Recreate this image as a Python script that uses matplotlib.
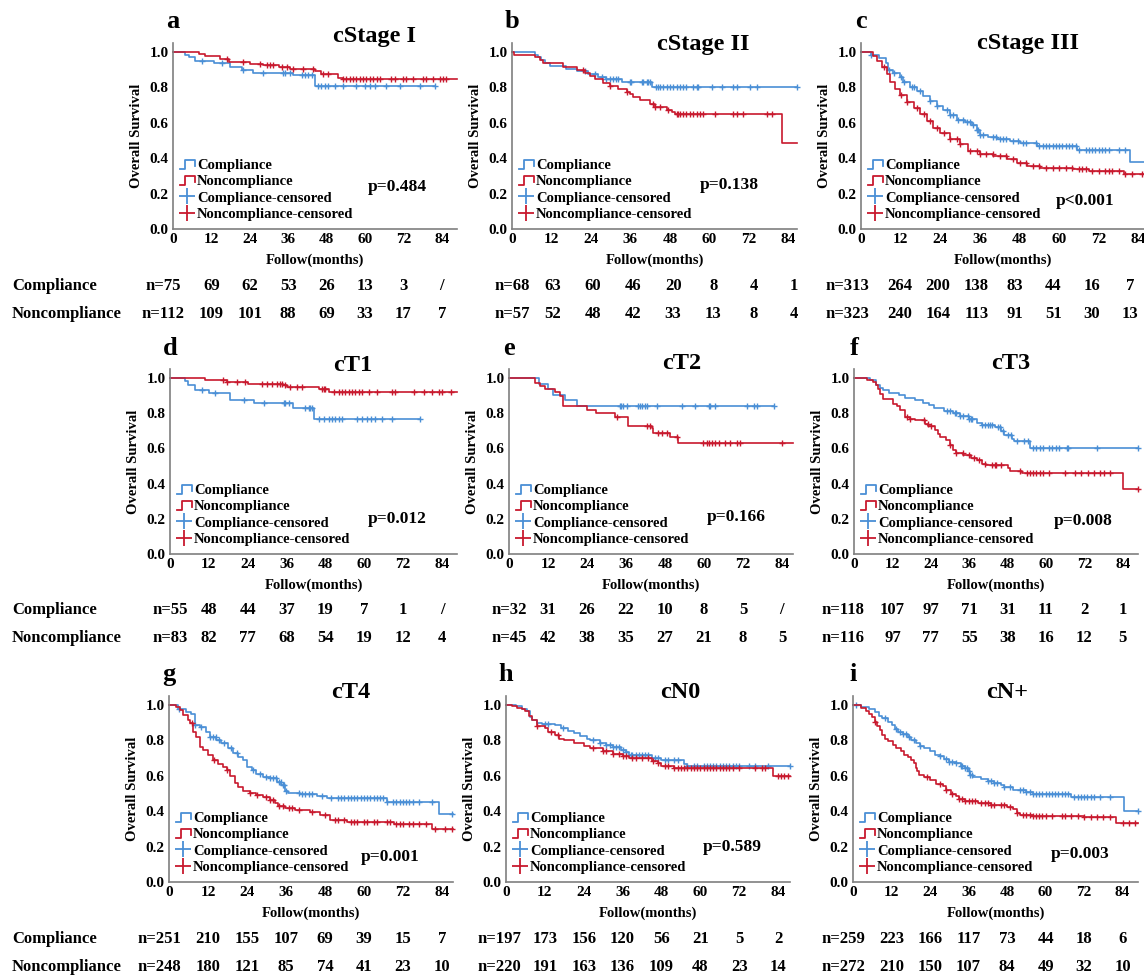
import numpy as np
import matplotlib
matplotlib.use('Agg')
import matplotlib.pyplot as plt
from matplotlib.lines import Line2D
from matplotlib.legend_handler import HandlerBase
from matplotlib import transforms

plt.rcParams['font.family'] = ['Liberation Serif', 'DejaVu Serif']
plt.rcParams['font.weight'] = 'bold'
plt.rcParams['axes.labelweight'] = 'bold'

# ---- a: cStage I ----
a_comp_t = [0, 3.8, 4.9, 7, 12.7, 17.7, 21.7, 25, 37.6, 44.3, 82]
a_comp_s = [1.0, 0.985, 0.97, 0.95, 0.94, 0.915, 0.90, 0.88, 0.87, 0.81, 0.81]
a_comp_cens = [9, 15.3, 22, 28.2, 34.5, 35, 36.6, 40.2, 41.2, 42.3, 43.3, 45.4, 46.4, 47.5, 48.5,
               50.6, 53.2, 57.3, 59.9, 61.5, 63, 66.7, 70.8, 77.1, 82]
a_non_t = [0, 8, 10, 14.7, 17.5, 24, 28, 33, 36.5, 44.3, 46.4, 51.5, 53, 88.7]
a_non_s = [1.0, 0.99, 0.977, 0.962, 0.945, 0.934, 0.925, 0.915, 0.902, 0.89, 0.874, 0.855, 0.845, 0.845]
a_non_cens = [16.8, 22, 27.2, 29.3, 30.3, 31.4, 34, 35.5, 37.6, 40.7, 43.8, 46.9, 48.5, 53.2, 54.2,
              55.2, 56.3, 57.3, 58.4, 59.4, 60.4, 61.5, 62.5, 63.6, 64.6, 68.2, 69.3, 71.9, 72.9,
              75, 78.1, 79.1, 81.2, 83.3, 84.3, 85.4]
a_risk_comp = ['n=75', '69', '62', '53', '26', '13', '3', '/']
a_risk_non = ['n=112', '109', '101', '88', '69', '33', '17', '7']

# ---- b: cStage II ----
b_comp_t = [0, 6.9, 7.9, 8.9, 9.9, 11.5, 16.5, 19.6, 23.1, 26.2, 28.7, 33.3, 42.4, 86.5]
b_comp_s = [1.0, 0.985, 0.97, 0.955, 0.94, 0.92, 0.905, 0.89, 0.875, 0.86, 0.846, 0.829, 0.80, 0.80]
b_comp_cens = [22.1, 25.2, 27.2, 28.7, 29.7, 30.7, 31.7, 32.3, 35.8, 36.3, 39.4, 39.9, 40.9, 41.4,
               41.9, 43.9, 44.4, 44.9, 45.9, 47, 48, 49, 50, 51, 52, 53, 55.1, 56.1, 56.6, 60.7,
               63.7, 67.3, 68.3, 72.3, 74.4, 86.5]
b_non_t = [0, 0.6, 6.9, 8.4, 9.4, 15.5, 19.6, 22.1, 23.6, 25.2, 27.7, 29.7, 32.3, 34.8, 35.8, 36.8,
           38.9, 41.9, 43.4, 47, 48.5, 49.5, 82, 86.6]
b_non_s = [1.0, 0.985, 0.97, 0.955, 0.94, 0.917, 0.897, 0.88, 0.865, 0.845, 0.826, 0.807, 0.79,
           0.775, 0.76, 0.743, 0.728, 0.709, 0.69, 0.675, 0.662, 0.649, 0.484, 0.484]
b_non_cens = [21.6, 29.7, 34.8, 42.9, 43.4, 44.9, 47.5, 50, 50.5, 51, 52, 53, 54, 55.1, 56.1, 57.1,
              58.1, 61.7, 67.3, 68.3, 70.3, 77.4, 78.9]
b_risk_comp = ['n=68', '63', '60', '46', '20', '8', '4', '1']
b_risk_non = ['n=57', '52', '48', '42', '33', '13', '8', '4']

# ---- c: cStage III ----
c_comp_t = [0, 3, 5.5, 7.5, 8.2, 9.8, 11.8, 12.8, 14.8, 16.9, 18.9, 20.9, 22.9, 24.9, 27, 29, 31.5,
            33.5, 35, 36, 38.6, 41.1, 45.1, 48.2, 53.2, 65.3, 81.5, 86]
c_comp_s = [1.0, 0.985, 0.965, 0.94, 0.896, 0.883, 0.858, 0.83, 0.80, 0.777, 0.751, 0.723, 0.694,
            0.675, 0.642, 0.617, 0.604, 0.585, 0.557, 0.532, 0.519, 0.509, 0.50, 0.485, 0.468,
            0.447, 0.381, 0.381]
c_comp_cens = [3, 8.5, 10, 12, 13, 15.5, 16, 18, 21, 23, 26, 27, 28, 29.5, 31, 32, 33, 34, 35, 35.5,
               36, 37, 40, 41, 42, 43, 44, 46, 47.5, 49, 50, 53, 54, 55, 56, 57, 58, 59, 60, 61, 62,
               63, 64, 65, 66, 68, 69, 70, 71, 72, 73, 74, 75, 78, 80]
c_non_t = [0, 3.7, 4.7, 6.3, 7.8, 8.8, 10.3, 11.8, 13.8, 15.9, 17.9, 19.9, 21.9, 23.9, 27, 30, 32.5,
           36, 40.1, 44.1, 47.1, 50.2, 54.2, 64.3, 68.9, 79.5, 86]
c_non_s = [1.0, 0.98, 0.947, 0.915, 0.877, 0.83, 0.792, 0.758, 0.717, 0.683, 0.649, 0.608, 0.57,
           0.543, 0.509, 0.481, 0.443, 0.425, 0.415, 0.396, 0.372, 0.358, 0.345, 0.34, 0.33,
           0.311, 0.311]
c_non_cens = [7, 12, 14, 17, 19, 21, 23, 25, 27, 29, 30, 33, 35, 36, 38, 40, 42, 44, 46, 48, 50, 52,
              54, 56, 58, 60, 62, 64, 66, 67, 68, 70, 72, 74, 75, 76, 78, 80, 82, 85]
c_risk_comp = ['n=313', '264', '200', '138', '83', '44', '16', '7']
c_risk_non = ['n=323', '240', '164', '113', '91', '51', '30', '13']

# ---- d: cT1 ----
d_comp_t = [0, 4.6, 5.7, 7.7, 11.9, 18.6, 25.8, 38.1, 44.3, 77.3]
d_comp_s = [1.0, 0.981, 0.96, 0.93, 0.915, 0.873, 0.858, 0.83, 0.769, 0.769]
d_comp_cens = [9.8, 13.9, 22.7, 28.9, 35.1, 35.6, 36.6, 41.8, 42.8, 43.3, 43.8, 45.9, 47.4, 49, 50,
               51, 52.1, 53.1, 57.7, 59.3, 60.8, 61.9, 63.4, 65.5, 68.6, 77.3]
d_non_t = [0, 10.8, 17.5, 24.2, 35, 36, 45.9, 49, 88.6]
d_non_s = [1.0, 0.99, 0.98, 0.967, 0.958, 0.948, 0.936, 0.92, 0.92]
d_non_cens = [16.5, 17.5, 20.6, 23.2, 28.4, 29.9, 31.4, 33, 34, 34.5, 35.6, 37.1, 39.2, 40.7, 46.9,
              47.4, 47.9, 50.5, 52.1, 53.1, 54.1, 55.2, 56.2, 57.2, 58.2, 59.3, 61.3, 63.9, 68.6,
              69.6, 75.3, 78.4, 80.9, 83, 84, 86.6]
d_risk_comp = ['n=55', '48', '44', '37', '19', '7', '1', '/']
d_risk_non = ['n=83', '82', '77', '68', '54', '19', '12', '4']

# ---- e: cT2 ----
e_comp_t = [0, 9.3, 12, 13.5, 17.2, 20.8, 81.4]
e_comp_s = [1.0, 0.968, 0.936, 0.905, 0.873, 0.84, 0.84]
e_comp_cens = [34.1, 34.6, 35.1, 36.2, 39.8, 40.3, 40.8, 41.9, 42.4, 45.4, 53.2, 57.3, 61.4, 61.9,
               63.5, 73.2, 75.3, 76.3, 81.4]
e_non_t = [0, 7.9, 9.5, 11, 14.1, 15.7, 16.7, 23.9, 26.9, 32.6, 36.7, 43.9, 44.4, 49.6, 52.1, 87.4]
e_non_s = [1.0, 0.97, 0.955, 0.94, 0.92, 0.90, 0.84, 0.82, 0.80, 0.78, 0.73, 0.715, 0.69, 0.662,
           0.628, 0.628]
e_non_cens = [33.1, 42.4, 43.4, 45.9, 47, 48.5, 51.6, 59.8, 60.9, 61.4, 62.4, 63.4, 64.5, 66.5,
              68.1, 70.1, 71.1, 84]
e_risk_comp = ['n=32', '31', '26', '22', '10', '8', '5', '/']
e_risk_non = ['n=45', '42', '38', '35', '27', '21', '8', '5']

# ---- f: cT3 ----
f_comp_t = [0, 5, 7, 8, 9, 11, 14, 16, 19, 21.5, 23.5, 25, 28, 31, 33, 36, 38.5, 40, 44, 46, 47,
            49.5, 50, 55, 88.7]
f_comp_s = [1.0, 0.99, 0.96, 0.945, 0.93, 0.915, 0.905, 0.885, 0.875, 0.86, 0.845, 0.83, 0.815,
            0.80, 0.785, 0.765, 0.745, 0.735, 0.72, 0.70, 0.675, 0.655, 0.64, 0.60, 0.60]
f_comp_cens = [29, 30, 31.5, 32, 33, 34, 35.5, 36, 36.5, 37, 40, 41, 42, 42.5, 43, 45, 45.5, 46.5,
               48, 49, 51, 53, 54.5, 56, 57, 58, 59, 61, 62, 63, 64, 66.5, 67, 76, 88.7]
f_non_t = [0, 4, 6, 7, 7.5, 8, 9.1, 12.2, 13.3, 14.3, 15.9, 17.4, 19, 22.1, 23.2, 25.3, 26.3, 26.8,
           28.9, 30, 31, 32, 34.1, 36.7, 38.3, 39.9, 41.4, 48.2, 48.7, 52.4, 84.2, 88.7]
f_non_s = [1.0, 0.99, 0.975, 0.96, 0.94, 0.91, 0.88, 0.855, 0.84, 0.82, 0.78, 0.767, 0.76, 0.741,
           0.726, 0.707, 0.684, 0.665, 0.646, 0.618, 0.59, 0.575, 0.561, 0.548, 0.533, 0.514,
           0.505, 0.49, 0.473, 0.461, 0.367, 0.367]
f_non_cens = [16.5, 17.5, 22, 23, 24, 30, 32, 34, 36, 37.5, 39, 41, 43, 44, 44.5, 46, 52, 54, 55, 56,
              57, 58, 59, 61, 66, 69, 71, 73, 75, 77, 78, 80, 88.7]
f_risk_comp = ['n=118', '107', '97', '71', '31', '11', '2', '1']
f_risk_non = ['n=116', '97', '77', '55', '38', '16', '12', '5']

# ---- g: cT4 ----
g_comp_t = [0, 2.8, 5.3, 6.9, 8, 9.5, 11.5, 12.5, 14.6, 16.1, 18.2, 19.7, 21.3, 22.8, 23.9, 25.4,
            26.9, 29, 31, 33.1, 34.6, 35.7, 36.7, 40.3, 45.4, 48.5, 67, 83, 87.4]
g_comp_s = [1.0, 0.98, 0.962, 0.947, 0.887, 0.877, 0.849, 0.817, 0.802, 0.783, 0.755, 0.726, 0.708,
            0.692, 0.65, 0.632, 0.609, 0.594, 0.585, 0.566, 0.547, 0.515, 0.504, 0.496, 0.485,
            0.477, 0.453, 0.387, 0.387]
g_comp_cens = [3, 8, 10, 12.5, 13.5, 14.5, 15.5, 17, 19, 21, 26, 28, 30, 31, 32, 33, 34, 34.5, 35,
               35.5, 36, 40, 41, 42, 43, 44, 47, 50, 52, 53, 54, 55, 56, 57, 58, 59, 60, 61, 62, 63,
               64, 65, 66, 67, 69, 70, 71, 72, 73, 74, 75, 77, 81, 87]
g_non_t = [0, 2.3, 3.3, 4.3, 5.9, 6.4, 7.4, 8.4, 9.5, 10.5, 12, 13.6, 15.1, 16.7, 17.7, 18.7, 20.3,
           21.3, 22.8, 24.9, 26.9, 29, 31, 32.6, 33.6, 35.7, 38.8, 43.4, 46.5, 49.6, 54.7, 69.1,
           80.9, 87.4]
g_non_s = [1.0, 0.99, 0.972, 0.943, 0.915, 0.896, 0.849, 0.821, 0.764, 0.745, 0.717, 0.689, 0.666,
           0.651, 0.632, 0.598, 0.557, 0.538, 0.515, 0.504, 0.491, 0.481, 0.466, 0.447, 0.428,
           0.419, 0.406, 0.396, 0.377, 0.353, 0.34, 0.33, 0.302, 0.302]
g_non_cens = [7, 14, 18, 25, 27, 30, 31, 32, 34, 35, 37, 38, 40, 44, 48, 51, 52, 54, 56, 57, 58, 60,
              61, 63, 64, 67, 68, 70, 71, 72, 74, 75, 77, 79, 82, 85, 87]
g_risk_comp = ['n=251', '210', '155', '107', '69', '39', '15', '7']
g_risk_non = ['n=248', '180', '121', '85', '74', '41', '23', '10']

# ---- h: cN0 ----
h_comp_t = [0, 3, 5, 6.5, 7.5, 8, 9.5, 11, 15, 17, 19, 21, 23, 25, 26, 29, 31, 33, 35.5, 37, 38,
            45, 48, 55, 56, 87.6]
h_comp_s = [1.0, 0.995, 0.98, 0.965, 0.93, 0.915, 0.90, 0.89, 0.885, 0.87, 0.855, 0.84, 0.825,
            0.81, 0.80, 0.785, 0.775, 0.76, 0.745, 0.735, 0.72, 0.70, 0.69, 0.665, 0.655, 0.655]
h_comp_cens = [12, 13, 17.5, 27, 29, 31, 32, 33, 34, 35, 36, 37, 38.5, 39, 40, 41, 42, 43, 44, 46,
               47, 49, 50, 52, 53, 56, 58, 59, 61, 62, 63, 64, 65, 66, 67, 68, 69, 70, 71, 72, 75,
               77, 81, 87.6]
h_non_t = [0, 2, 3.5, 5, 6, 7, 8, 9.5, 12, 13, 15, 16.5, 18, 21, 24, 26, 30, 33, 36, 38, 45, 47,
           48, 52, 82.5, 87.6]
h_non_s = [1.0, 0.995, 0.985, 0.975, 0.965, 0.94, 0.915, 0.88, 0.87, 0.85, 0.83, 0.81, 0.80,
           0.785, 0.77, 0.755, 0.74, 0.725, 0.71, 0.70, 0.685, 0.67, 0.655, 0.645, 0.60, 0.60]
h_non_cens = [9.5, 14, 16, 27, 30, 31, 33, 35, 36, 37, 39, 40, 42, 44, 45.5, 47, 49, 50, 52, 53, 54,
              55, 56, 57, 58, 59, 60, 61, 62, 63, 64, 65, 66, 67, 68, 69, 70, 72, 77, 79, 80, 84,
              85, 86, 87]
h_risk_comp = ['n=197', '173', '156', '120', '56', '21', '5', '2']
h_risk_non = ['n=220', '191', '163', '136', '109', '48', '23', '14']

# ---- i: cN+ ----
i_comp_t = [0, 2.5, 5, 7, 8, 9, 11, 12, 13, 14, 15.5, 17, 18, 19.5, 21, 22, 24, 25.5, 27, 28.5, 30,
            32, 33.5, 35, 36, 36.5, 37.5, 40, 42, 44, 46, 47, 50, 54, 56, 68, 84.5, 88.7]
i_comp_s = [1.0, 0.99, 0.975, 0.96, 0.94, 0.925, 0.905, 0.885, 0.865, 0.85, 0.835, 0.82, 0.805,
            0.785, 0.77, 0.755, 0.74, 0.72, 0.71, 0.695, 0.68, 0.67, 0.655, 0.645, 0.625, 0.605,
            0.595, 0.58, 0.57, 0.56, 0.55, 0.535, 0.52, 0.51, 0.50, 0.48, 0.40, 0.40]
i_comp_cens = [1, 10, 13.5, 14.5, 15.5, 16.5, 17.5, 19, 21, 27, 29, 30, 31, 32, 33.5, 34, 35, 35.5,
               36, 36.5, 37, 42, 43, 44, 45, 47, 49, 52, 53, 54, 55, 56, 57, 58, 59, 60, 61, 62,
               63, 64, 65, 66, 67, 69, 70, 71, 72, 73, 74, 75, 77, 80, 88.7]
i_non_t = [0, 2.5, 4, 5, 6, 7, 7.5, 8.5, 9, 10, 11, 12.5, 13.5, 15, 16, 17, 18, 19, 19.5, 20, 20.5,
           22, 24, 26, 28, 29, 30.5, 32, 33, 35, 36, 39, 43, 48, 50, 51, 52, 56, 72, 82, 88.7]
i_non_s = [1.0, 0.985, 0.965, 0.95, 0.93, 0.905, 0.88, 0.86, 0.83, 0.81, 0.795, 0.775, 0.755,
           0.74, 0.72, 0.705, 0.69, 0.67, 0.645, 0.625, 0.605, 0.595, 0.575, 0.555, 0.54, 0.52,
           0.50, 0.485, 0.47, 0.46, 0.455, 0.445, 0.435, 0.425, 0.41, 0.39, 0.38, 0.375, 0.37,
           0.335, 0.335]
i_non_cens = [7, 23, 27, 29, 31, 33, 34, 35, 36, 37, 38, 40, 41, 42, 43, 44, 46, 47, 49, 51, 53, 54,
              55, 56, 57, 58, 59, 60, 62, 65, 66, 68, 70, 72, 74, 76, 78, 80, 84, 86, 88]
i_risk_comp = ['n=259', '223', '166', '117', '73', '44', '18', '6']
i_risk_non = ['n=272', '210', '150', '107', '84', '49', '32', '10']

risk_ticks = [0, 12, 24, 36, 48, 60, 72, 84]
legend_labels = ['Compliance', 'Noncompliance', 'Compliance-censored', 'Noncompliance-censored']

BLUE = '#4a8fd6'
RED = '#c8192e'
W, H = 1144, 977


class StepHandler(HandlerBase):
    # little step-shaped legend icon
    def create_artists(self, legend, orig_handle, xdescent, ydescent, width, height,
                       fontsize, trans):
        x0 = -xdescent
        xs = [x0, x0 + 0.35 * width, x0 + 0.35 * width, x0 + width, x0 + width]
        ys = [0.05 * height, 0.05 * height, 0.95 * height, 0.95 * height, 0.35 * height]
        ln = Line2D(xs, ys, color=orig_handle.get_color(), lw=1.3)
        ln.set_transform(trans)
        return [ln]


def surv_at(t, s, tc):
    idx = np.searchsorted(t, tc, side='right') - 1
    return np.asarray(s)[idx]


# layout: (left px, right px, y of 0.0 px, y of 1.0 px)
panels = [
    dict(letter='a', title='cStage I', tpos=(63, 1.09), p='p=0.484', ppos=(70, 0.24), noff=-3,
         rscale=1.0, box=(173, 457, 229, 52), xmax=88.75,
         comp=(a_comp_t, a_comp_s, a_comp_cens), non=(a_non_t, a_non_s, a_non_cens),
         risk=(a_risk_comp, a_risk_non)),
    dict(letter='b', title='cStage II', tpos=(58, 1.04), p='p=0.138', ppos=(66, 0.25), noff=0,
         rscale=1.02, box=(512, 797, 229, 52), xmax=86.6,
         comp=(b_comp_t, b_comp_s, b_comp_cens), non=(b_non_t, b_non_s, b_non_cens),
         risk=(b_risk_comp, b_risk_non)),
    dict(letter='c', title='cStage III', tpos=(50.6, 1.05), p='p<0.001', ppos=(68, 0.16), noff=-4,
         rscale=0.97, box=(861, 1145, 229, 52), xmax=86,
         comp=(c_comp_t, c_comp_s, c_comp_cens), non=(c_non_t, c_non_s, c_non_cens),
         risk=(c_risk_comp, c_risk_non)),
    dict(letter='d', title='cT1', tpos=(56.5, 1.07), p='p=0.012', ppos=(70, 0.20), noff=0,
         rscale=1.0, box=(170, 457, 554, 378), xmax=88.6,
         comp=(d_comp_t, d_comp_s, d_comp_cens), non=(d_non_t, d_non_s, d_non_cens),
         risk=(d_risk_comp, d_risk_non)),
    dict(letter='e', title='cT2', tpos=(53, 1.085), p='p=0.166', ppos=(70, 0.21), noff=0,
         rscale=1.0, box=(509, 793, 554, 378), xmax=87.4,
         comp=(e_comp_t, e_comp_s, e_comp_cens), non=(e_non_t, e_non_s, e_non_cens),
         risk=(e_risk_comp, e_risk_non)),
    dict(letter='f', title='cT3', tpos=(49, 1.085), p='p=0.008', ppos=(71.5, 0.19), noff=-3.5,
         rscale=1.0, box=(854, 1138, 554, 378), xmax=88.75,
         comp=(f_comp_t, f_comp_s, f_comp_cens), non=(f_non_t, f_non_s, f_non_cens),
         risk=(f_risk_comp, f_risk_non)),
    dict(letter='g', title='cT4', tpos=(56, 1.07), p='p=0.001', ppos=(68, 0.14), noff=-3,
         rscale=1.0, box=(169, 453, 882, 705), xmax=87.4,
         comp=(g_comp_t, g_comp_s, g_comp_cens), non=(g_non_t, g_non_s, g_non_cens),
         risk=(g_risk_comp, g_risk_non)),
    dict(letter='h', title='cN0', tpos=(53.7, 1.07), p='p=0.589', ppos=(70, 0.20), noff=-2,
         rscale=1.0, box=(506, 790, 882, 705), xmax=87.7,
         comp=(h_comp_t, h_comp_s, h_comp_cens), non=(h_non_t, h_non_s, h_non_cens),
         risk=(h_risk_comp, h_risk_non)),
    dict(letter='i', title='cN+', tpos=(48, 1.07), p='p=0.003', ppos=(70.7, 0.16), noff=-3,
         rscale=1.0, box=(853, 1138, 882, 705), xmax=88.8,
         comp=(i_comp_t, i_comp_s, i_comp_cens), non=(i_non_t, i_non_s, i_non_cens),
         risk=(i_risk_comp, i_risk_non)),
]

fig = plt.figure(figsize=(W / 100, H / 100), dpi=100)
YTOP = 1.05
RISK_Y = (-0.32, -0.48)

for k, pnl in enumerate(panels):
    left, right, y0, y1 = pnl['box']
    top = y1 - (YTOP - 1.0) * (y0 - y1)
    ax = fig.add_axes([left / W, 1 - y0 / H, (right - left) / W, (y0 - top) / H])
    ax.set_xlim(0, pnl['xmax'])
    ax.set_ylim(0, YTOP)

    handles = []
    for (t, s, cens), col in ((pnl['comp'], BLUE), (pnl['non'], RED)):
        ln, = ax.step(t, s, where='post', color=col, lw=1.2, clip_on=False)
        handles.append(ln)
        ax.plot(cens, surv_at(t, s, cens), linestyle='None', marker='+', ms=5,
                mew=1.0, color=col, clip_on=False)
    handles.append(Line2D([], [], color=BLUE, marker='+', ls='None', ms=11, mew=1.3))
    handles.append(Line2D([], [], color=RED, marker='+', ls='None', ms=11, mew=1.3))

    ax.legend(handles, legend_labels, loc='lower left', bbox_to_anchor=(0.025, 0.045),
              frameon=False, fontsize=10.5, handlelength=1.0, handletextpad=0.15,
              labelspacing=0.2, borderpad=0, borderaxespad=0,
              handler_map={handles[0]: StepHandler(), handles[1]: StepHandler()})

    for sp in ('top', 'right'):
        ax.spines[sp].set_visible(False)
    for sp in ('left', 'bottom'):
        ax.spines[sp].set_color('#7f7f7f')
        ax.spines[sp].set_linewidth(1.2)
    ax.set_xticks(risk_ticks)
    ax.set_yticks([0.0, 0.2, 0.4, 0.6, 0.8, 1.0])
    ax.set_yticklabels(['0.0', '0.2', '0.4', '0.6', '0.8', '1.0'])
    ax.tick_params(length=0, labelsize=11, pad=3)
    for lab in ax.get_xticklabels() + ax.get_yticklabels():
        lab.set_fontweight('bold')

    ax.set_ylabel('Overall Survival', fontsize=10.5)
    ax.yaxis.set_label_coords(-0.105, 0.5)
    ax.set_xlabel('Follow(months)', fontsize=10.5)
    ax.xaxis.set_label_coords(0.5, -0.13)

    ax.text(pnl['tpos'][0], pnl['tpos'][1], pnl['title'], fontsize=17.5, ha='center',
            va='center', clip_on=False)
    ax.text(0, 1.17, pnl['letter'], fontsize=19, ha='center', va='center', clip_on=False)
    ax.text(pnl['ppos'][0], pnl['ppos'][1], pnl['p'], fontsize=12.5, ha='center',
            va='center')

    # numbers at risk
    for row, yv in zip(pnl['risk'], RISK_Y):
        for j, (tk, val) in enumerate(zip(risk_ticks, row)):
            xv = tk + pnl['noff'] if j == 0 else tk * pnl['rscale']
            ax.text(xv, yv, val, fontsize=12, ha='center', va='center', clip_on=False)
    if k % 3 == 0:
        tr = transforms.blended_transform_factory(fig.transFigure, ax.transData)
        ax.text(12 / W, RISK_Y[0], 'Compliance', transform=tr, fontsize=12, ha='left',
                va='center')
        ax.text(12 / W, RISK_Y[1], 'Noncompliance', transform=tr, fontsize=12, ha='left',
                va='center')

fig.savefig('out.png', dpi=100)
